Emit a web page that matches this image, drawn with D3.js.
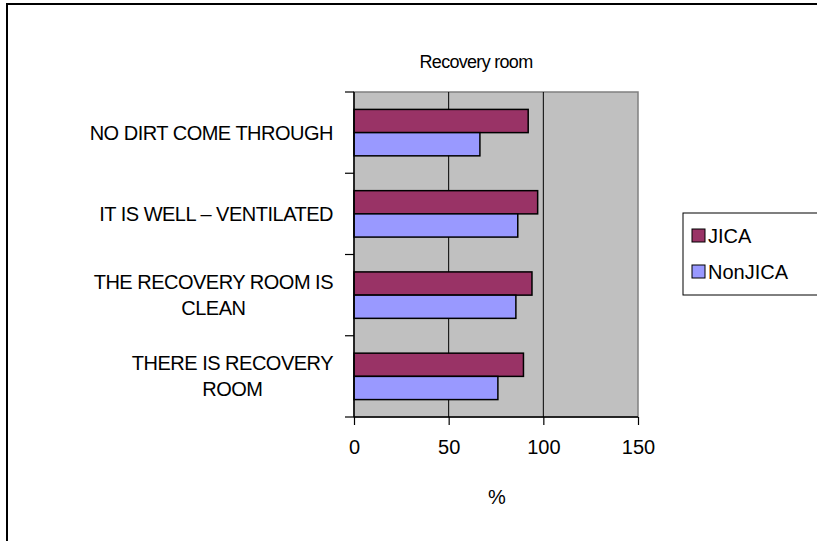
<!DOCTYPE html>
<html>
<head>
<meta charset="utf-8">
<script src="https://cdn.jsdelivr.net/npm/d3@7"></script>
<style>
  html, body { margin: 0; padding: 0; background: #fff; }
  svg { display: block; font-family: "Liberation Sans", Arial, sans-serif; }
</style>
</head>
<body>
<svg id="chart" width="817" height="541"></svg>
<script>
// ---- data ----
const categories = [
  "NO DIRT COME THROUGH",
  "IT IS WELL \u2013 VENTILATED",
  "THE RECOVERY ROOM IS CLEAN",
  "THERE IS RECOVERY ROOM"
];
const categoryLines = [
  ["NO DIRT COME THROUGH"],
  ["IT IS WELL \u2013 VENTILATED"],
  ["THE RECOVERY ROOM IS", "CLEAN"],
  ["THERE IS RECOVERY", "ROOM"]
];
const seriesNames = ["JICA", "NonJICA"];
const jica = [92, 97, 94, 89.5];
const nonJica = [66.5, 86.5, 85.5, 76];
const xTicks = [0, 50, 100, 150];
const titleText = "Recovery room";
const xAxisTitle = "%";

// ---- layout ----
const svg = d3.select("#chart");
const pLeft = 354, pRight = 638, pTop = 92, pBottom = 417;
const colors = ["#993366", "#9999FF"];
const FS = 20;

const x = d3.scaleLinear().domain([0, 150]).range([pLeft, pRight]);
const y = d3.scaleBand().domain(categories).range([pTop, pBottom]);
const barH = y.bandwidth() / 3.5;

// outer border
svg.append("rect").attr("x", 7).attr("y", 4).attr("width", 830).attr("height", 560)
  .attr("fill", "#fff").attr("stroke", "#000").attr("stroke-width", 2);

// plot area
svg.append("rect").attr("x", pLeft).attr("y", pTop).attr("width", pRight - pLeft).attr("height", pBottom - pTop)
  .attr("fill", "#C0C0C0").attr("stroke", "#808080").attr("stroke-width", 1.5);

// gridlines
svg.append("g").selectAll("line").data(xTicks.filter(t => t > 0 && t < 150)).join("line")
  .attr("x1", d => x(d)).attr("x2", d => x(d))
  .attr("y1", pTop).attr("y2", pBottom)
  .attr("stroke", "#000").attr("stroke-width", 1);

// bars
const data = categories.map((c, i) => ({c, vals: [jica[i], nonJica[i]]}));
const g = svg.append("g");
data.forEach(d => {
  d.vals.forEach((v, k) => {
    g.append("rect")
      .attr("x", x(0))
      .attr("y", y(d.c) + barH * (0.75 + k))
      .attr("width", x(v) - x(0))
      .attr("height", barH)
      .attr("fill", colors[k])
      .attr("stroke", "#000").attr("stroke-width", 1.5);
  });
});

// bottom axis
const xAxis = d3.axisBottom(x).tickValues(xTicks).tickSize(8).tickPadding(15).tickFormat(d3.format("d"));
const gx = svg.append("g").attr("transform", `translate(0,${pBottom})`).call(xAxis);
gx.select(".domain").attr("stroke", "#000").attr("stroke-width", 1.5).attr("d", `M${pLeft},0H${pRight}`);
gx.selectAll(".tick line").attr("stroke", "#000").attr("stroke-width", 1.2);
gx.selectAll(".tick text").attr("font-size", FS).attr("fill", "#000")
  .attr("font-family", "Liberation Sans, Arial, sans-serif");

// left axis line and ticks at band boundaries
const bounds = categories.map(c => y(c)).concat([pBottom]);
svg.append("line").attr("x1", pLeft).attr("x2", pLeft).attr("y1", pTop).attr("y2", pBottom)
  .attr("stroke", "#000").attr("stroke-width", 1.5);
svg.append("g").selectAll("line").data(bounds).join("line")
  .attr("x1", pLeft - 9).attr("x2", pLeft).attr("y1", d => d).attr("y2", d => d)
  .attr("stroke", "#000").attr("stroke-width", 1.2);

// category labels
const lab = svg.append("g").attr("font-size", FS).attr("fill", "#000").attr("letter-spacing", -0.5);
categoryLines.forEach((lines, i) => {
  const cy = y(categories[i]) + y.bandwidth() / 2;
  const lh = 26;
  const tmp = lab.append("text").text(lines[0]);
  const w = tmp.node().getComputedTextLength();
  tmp.remove();
  const cx = 333 - w / 2;
  const t = lab.append("text").attr("text-anchor", "middle");
  lines.forEach((ln, j) => {
    t.append("tspan")
      .attr("x", cx)
      .attr("y", cy + (j - (lines.length - 1) / 2) * lh)
      .attr("dy", "0.35em")
      .text(ln);
  });
});

// title
svg.append("text").attr("x", 476).attr("y", 62).attr("dy", "0.35em").attr("text-anchor", "middle")
  .attr("font-size", 18).attr("letter-spacing", -0.7).text(titleText);

// x axis title
svg.append("text").attr("x", 497).attr("y", 497).attr("dy", "0.35em").attr("text-anchor", "middle")
  .attr("font-size", FS).text(xAxisTitle);

// legend
const lg = svg.append("g");
lg.append("rect").attr("x", 683).attr("y", 213).attr("width", 140).attr("height", 82)
  .attr("fill", "#fff").attr("stroke", "#000").attr("stroke-width", 1);
seriesNames.forEach((s, k) => {
  const cy = 236 + k * 36;
  lg.append("rect").attr("x", 692).attr("y", cy - 7).attr("width", 13).attr("height", 13)
    .attr("fill", colors[k]).attr("stroke", "#000").attr("stroke-width", 1);
  lg.append("text").attr("x", 708).attr("y", cy).attr("dy", "0.35em").attr("font-size", FS).text(s);
});
</script>
</body>
</html>
